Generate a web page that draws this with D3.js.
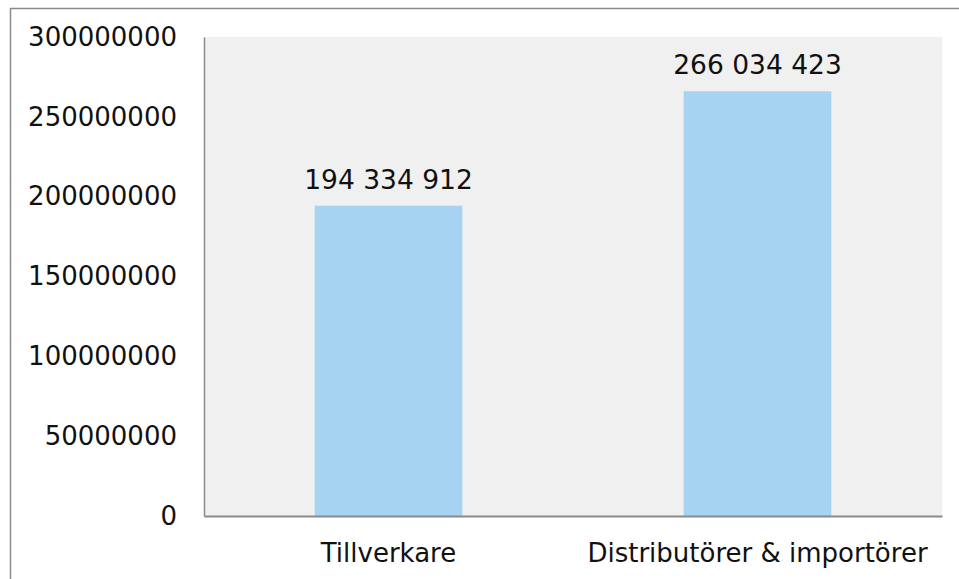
<!DOCTYPE html>
<html>
<head>
<meta charset="utf-8">
<script src="https://cdn.jsdelivr.net/npm/d3@7"></script>
<style>
  body { margin: 0; background: #fff; }
  svg { display: block; font-family: "DejaVu Sans", Verdana, sans-serif; }
</style>
</head>
<body>
<svg id="chart" width="959" height="579"></svg>
<script>
const categories = ['Tillverkare', 'Distributörer & importörer'];
const values = [194334912, 266034423];
const valueLabels = ['194 334 912', '266 034 423'];
const yTicks = [0, 50000000, 100000000, 150000000, 200000000, 250000000, 300000000];

const svg = d3.select('#chart');
const margin = { left: 204, top: 37, right: 17, bottom: 63 };
const width = +svg.attr('width');
const height = +svg.attr('height');
const x0 = margin.left, x1 = width - margin.right;
const y0 = height - margin.bottom, y1 = margin.top;

// outer frame, only left and top edges fall inside the window
svg.append('rect')
    .attr('x', 10.5).attr('y', 8.5)
    .attr('width', width + 20).attr('height', height + 20)
    .attr('fill', '#fff')
    .attr('stroke', '#8a8a8a')
    .attr('stroke-width', 1.5);

const x = d3.scaleBand()
    .domain(categories)
    .range([x0, x1])
    .paddingInner(0.6)
    .paddingOuter(0.3);

const y = d3.scaleLinear()
    .domain([0, 300000000])
    .range([y0, y1]);

svg.append('rect')
    .attr('x', x0).attr('y', y1)
    .attr('width', x1 - x0).attr('height', y0 - y1)
    .attr('fill', '#f0f0f0');

svg.append('g')
    .selectAll('rect')
    .data(values)
    .enter()
    .append('rect')
    .attr('x', (d, i) => x(categories[i]))
    .attr('y', d => y(d))
    .attr('width', x.bandwidth())
    .attr('height', d => y0 - y(d))
    .attr('fill', '#a7d3f3');

svg.append('g')
    .selectAll('text')
    .data(values)
    .enter()
    .append('text')
    .attr('x', (d, i) => x(categories[i]) + x.bandwidth() / 2)
    .attr('y', d => y(d) - 17)
    .attr('text-anchor', 'middle')
    .style('font-size', '26.5px')
    .style('fill', '#111')
    .text((d, i) => valueLabels[i]);

// y axis
const yAxis = svg.append('g')
    .attr('transform', `translate(${x0},0)`)
    .call(d3.axisLeft(y).tickValues(yTicks).tickSize(0).tickPadding(27).tickFormat(d3.format('d')))
    .attr('font-family', null)
    .attr('font-size', null);
yAxis.select('.domain').attr('stroke', '#8a8a8a').attr('stroke-width', 1.5);
yAxis.selectAll('text')
    .style('font-size', '26px')
    .style('fill', '#111');

// x axis
const xAxis = svg.append('g')
    .attr('transform', `translate(0,${y0})`)
    .call(d3.axisBottom(x).tickSize(0).tickPadding(28))
    .attr('font-family', null)
    .attr('font-size', null);
xAxis.select('.domain').attr('stroke', '#8a8a8a').attr('stroke-width', 2);
xAxis.selectAll('text')
    .style('font-size', '26px')
    .style('fill', '#111');
</script>
</body>
</html>
